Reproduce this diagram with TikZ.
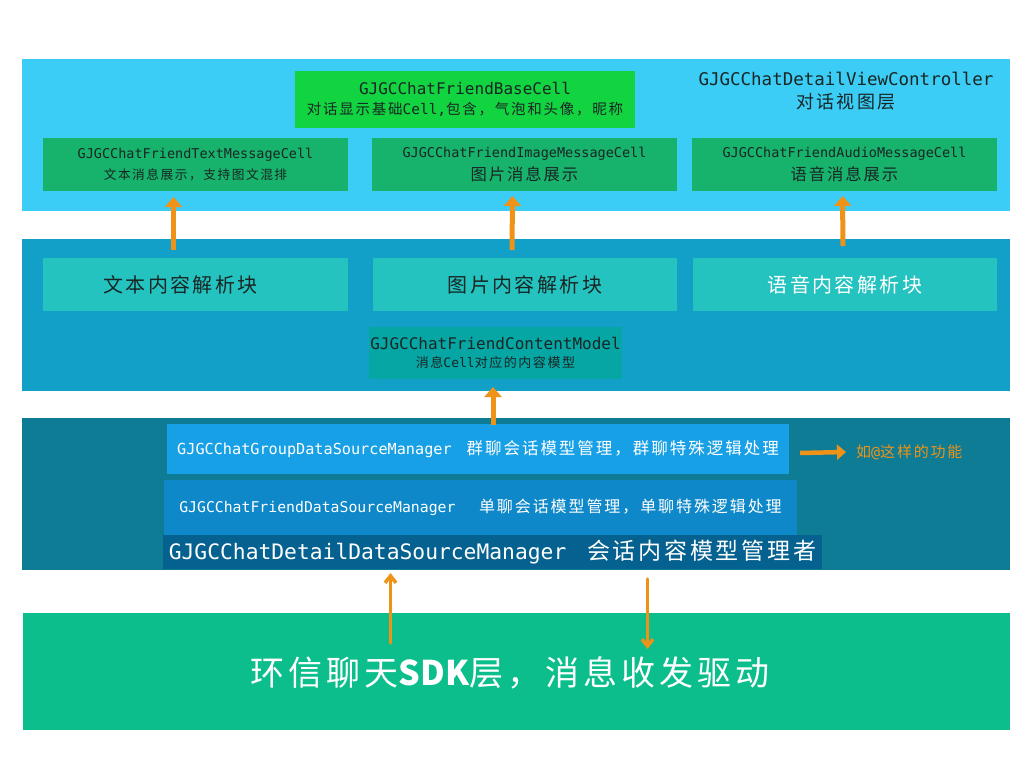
\documentclass[tikz,border=0pt]{standalone}
\usepackage{fontspec}
\setmainfont{DejaVu Sans Mono}
\newfontfamily\cjk[LetterSpace=12]{Noto Sans CJK SC}
\newfontfamily\cjkn{Noto Sans CJK SC}
\usetikzlibrary{arrows.meta}
\definecolor{layA}{HTML}{3CCDF7}
\definecolor{layB}{HTML}{12A0C8}
\definecolor{layC}{HTML}{0E7C94}
\definecolor{layD}{HTML}{0BBE8C}
\definecolor{basegreen}{HTML}{12D340}
\definecolor{cellgreen}{HTML}{17B36C}
\definecolor{parsecol}{HTML}{24C3C0}
\definecolor{modelcol}{HTML}{06A6A4}
\definecolor{groupcol}{HTML}{18A0E6}
\definecolor{friendcol}{HTML}{0E88C8}
\definecolor{detailcol}{HTML}{05618F}
\definecolor{orng}{HTML}{EE9318}
\definecolor{darktxt}{HTML}{182624}
\newcommand\fs[1]{\fontsize{#1}{#1}\selectfont}
\newcommand\mybox[7]{\node[#6, minimum width={#4-#2}, minimum height={#5-#3}] (#1) at ({(#2+#4)/2},{(#3+#5)/2}) {#7};}
\tikzset{
  plain/.style={inner sep=0pt, outer sep=0pt, draw=none},
  darkbox/.style={plain, text=darktxt, align=center},
  lightbox/.style={plain, text=white, align=center},
  bigarr/.style={draw=orng, line width=5pt, -{Triangle[length=10pt,width=17pt]}},
  thinarr/.style={draw=orng, line width=3.5pt, line cap=round, -{Straight Barb[length=7pt,width=11pt]}},
}
\begin{document}
\begin{tikzpicture}[x=1pt,y=-1pt]
\useasboundingbox (0,0) rectangle (1024,768);
\fill[white] (0,0) rectangle (1024,768);
% layers
\mybox{layerA}{22}{59}{1010}{211}{plain, fill=layA}{}
\mybox{layerB}{22}{239}{1010}{391}{plain, fill=layB}{}
\mybox{layerC}{22}{418}{1010}{570}{plain, fill=layC}{}
\mybox{sdk}{23}{613}{1010}{730}{lightbox, fill=layD}{}
% top layer
\mybox{base}{295}{71}{635}{128}{darkbox, fill=basegreen}{\fs{16}GJGCChatFriendBaseCell\\[6pt]\fs{14.5}{\cjk 对话显示基础}Cell,{\cjk 包含，气泡和头像，昵称}}
\node[darktxt, align=center, inner sep=0pt] (ctrl) at (846,91) {\fs{17.5}GJGCChatDetailViewController\\[6pt]\fs{18}\cjk 对话视图层};
\mybox{tcell}{43}{138}{348}{191}{darkbox, fill=cellgreen}{\fs{13.5}GJGCChatFriendTextMessageCell\\[6pt]\fs{12.7}\cjk 文本消息展示，支持图文混排}
\mybox{icell}{372}{138}{677}{191}{darkbox, fill=cellgreen}{\fs{13.5}GJGCChatFriendImageMessageCell\\[5pt]\fs{16.3}\cjk 图片消息展示}
\mybox{acell}{692}{138}{997}{191}{darkbox, fill=cellgreen}{\fs{13.5}GJGCChatFriendAudioMessageCell\\[5pt]\fs{16.3}\cjk 语音消息展示}
% second layer
\mybox{tparse}{43}{258}{348}{311}{darkbox, fill=parsecol}{\fs{20}\cjk 文本内容解析块\hspace*{30pt}}
\mybox{iparse}{373}{258}{677}{311}{darkbox, fill=parsecol}{\fs{20}\cjk 图片内容解析块}
\mybox{aparse}{693}{258}{997}{311}{lightbox, fill=parsecol}{\fs{20}\cjk 语音内容解析块}
\mybox{model}{369}{327}{622}{379}{darkbox, fill=modelcol}{\fs{16}GJGCChatFriendContentModel\\[6pt]\fs{13}{\cjk 消息}Cell{\cjk 对应的内容模型}}
% third layer
\mybox{group}{167}{424}{789}{474}{lightbox, fill=groupcol}{\fs{15.2}GJGCChatGroupDataSourceManager {\cjk\fs{16.5} 群聊会话模型管理，群聊特殊逻辑处理}}
\mybox{friend}{164}{480}{797}{535}{lightbox, fill=friendcol}{\fs{14.8}GJGCChatFriendDataSourceManager\hspace{18pt}{\cjk\fs{16} 单聊会话模型管理，单聊特殊逻辑处理}}
\mybox{detail}{163}{535}{822}{569}{lightbox, fill=detailcol}{\fs{21.3}GJGCChatDetailDataSourceManager {\cjk\fs{23} 会话内容模型管理者}}
\node[text=orng, inner sep=0pt, anchor=west] (func) at (856,452) {\fs{15}{\cjk 如}@{\cjk 这样的功能}};
% bottom
\node[text=white, inner sep=0pt] (sdktxt) at (510,673) {\fs{34}{\cjk 环信聊天}{\cjkn\bfseries SDK}{\cjk 层，消息收发驱动}};
% arrows
\draw[bigarr] ([xshift=-22pt,yshift=8pt]tparse.north) -- ([xshift=-22pt,yshift=-6pt]tcell.south);
\draw[bigarr] ([xshift=-13pt,yshift=8pt]iparse.north) -- ([xshift=-12pt,yshift=-5pt]icell.south);
\draw[bigarr] ([xshift=-2pt,yshift=12pt]aparse.north) -- ([xshift=-2pt,yshift=-5pt]acell.south);
\draw[bigarr] ([xshift=15pt,yshift=-1pt]group.north) -- ([xshift=-2.5pt,yshift=-8pt]model.south);
\draw[bigarr, line width=4.5pt, -{Triangle[length=9pt,width=15pt]}] ([xshift=11pt,yshift=-4pt]group.east) -- ([xshift=-10pt]func.west |- 0,452);
\draw[thinarr] ([xshift=-126pt,yshift=-30pt]sdk.north) -- ([xshift=-102pt,yshift=-4pt]detail.south);
\draw[thinarr] ([xshift=155pt,yshift=-10pt]detail.south) -- ([xshift=131pt,yshift=-36pt]sdk.north);
\end{tikzpicture}
\end{document}
